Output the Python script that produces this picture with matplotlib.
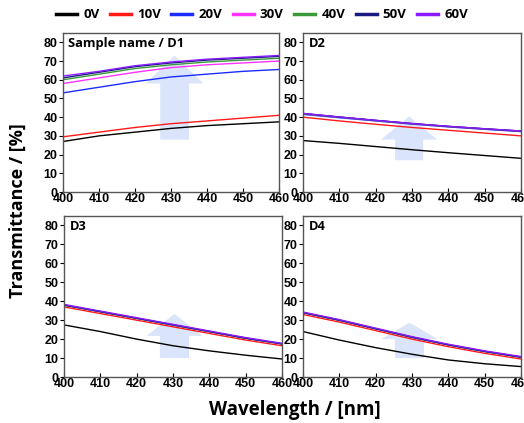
import matplotlib
matplotlib.use("Agg")
import matplotlib.pyplot as plt
from matplotlib.patches import FancyArrow
from matplotlib.font_manager import FontProperties

wavelength = [400, 410, 420, 430, 440, 450, 460]
voltages = ["0V", "10V", "20V", "30V", "40V", "50V", "60V"]
colors = ["#000000", "#ff1a1a", "#1a2cff", "#ff33ff", "#3a9a3a", "#1a1a80", "#8b1aff"]

d1 = {
    "0V":  [27, 30, 32, 34, 35.5, 36.5, 37.5],
    "10V": [29.5, 32, 34.5, 36.5, 38, 39.5, 41],
    "20V": [53, 56, 59, 61.5, 63, 64.5, 65.5],
    "30V": [58, 61, 64, 66.5, 68, 69, 70],
    "40V": [60, 63, 66, 68, 69.5, 70.5, 71.5],
    "50V": [61, 64, 67, 69, 70.5, 71.5, 72.5],
    "60V": [62, 64.5, 67.5, 69.5, 71, 72, 73],
}
d2 = {
    "0V":  [27.5, 26, 24.3, 22.6, 21, 19.5, 18],
    "10V": [40, 38, 36.2, 34.5, 33, 31.5, 30],
    "20V": [41.5, 39.7, 38, 36.3, 34.8, 33.5, 32.3],
    "30V": [41.8, 40, 38.2, 36.5, 35, 33.7, 32.5],
    "40V": [41.8, 40, 38.2, 36.5, 35, 33.7, 32.5],
    "50V": [42, 40.1, 38.3, 36.6, 35.1, 33.8, 32.6],
    "60V": [42, 40.1, 38.3, 36.6, 35.1, 33.8, 32.6],
}
d3 = {
    "0V":  [27.5, 24, 20, 16.5, 13.8, 11.5, 9.5],
    "10V": [37, 33.5, 30, 26.5, 23, 19.5, 16.5],
    "20V": [38, 34.5, 31, 27.5, 24, 20.5, 17.5],
    "30V": [38, 34.5, 31, 27.5, 24, 20.5, 17.5],
    "40V": [38, 34.5, 31, 27.5, 24, 20.5, 17.5],
    "50V": [38, 34.5, 31, 27.5, 24, 20.5, 17.5],
    "60V": [38.3, 34.8, 31.3, 27.8, 24.3, 20.8, 17.8],
}
d4 = {
    "0V":  [24, 19.5, 15.5, 12, 9, 7, 5.5],
    "10V": [33, 29, 24.5, 20, 16, 12.5, 9.5],
    "20V": [34, 30, 25.5, 21, 17, 13.5, 10.5],
    "30V": [34, 30, 25.5, 21, 17, 13.5, 10.5],
    "40V": [34, 30, 25.5, 21, 17, 13.5, 10.5],
    "50V": [34, 30, 25.5, 21, 17, 13.5, 10.5],
    "60V": [34.3, 30.3, 25.8, 21.3, 17.3, 13.8, 10.8],
}
panel_titles = ["Sample name / D1", "D2", "D3", "D4"]
xticks = [400, 410, 420, 430, 440, 450, 460]
yticks = [0, 10, 20, 30, 40, 50, 60, 70, 80]

W, H = 524, 423
fig = plt.figure(figsize=(W / 100, H / 100), dpi=100)

def rect(l, t, r, b):
    return [l / W, 1 - b / H, (r - l) / W, (b - t) / H]

rects = [rect(63, 33, 279, 192), rect(303, 33, 521, 192),
         rect(64, 216, 282, 377), rect(303, 216, 521, 377)]
datas = [d1, d2, d3, d4]
# arrow: (x center, y bottom, y head base, y top, shaft width, head width)
arrows = [(431, 28, 58, 73, 8, 16), (429.2, 17, 28, 40.4, 7.7, 15.5),
          (430.4, 10, 21.7, 33.3, 8, 15.4), (429.3, 10, 20, 28.7, 8, 15.5)]

tickfont = FontProperties(family="Liberation Sans", weight="bold", size=9)
axes = []
for i, (rc, data, title, arr) in enumerate(zip(rects, datas, panel_titles, arrows)):
    ax = fig.add_axes(rc)
    xc, yb, yh, yt, sw, hw = arr
    ar = FancyArrow(xc, yb, 0, yt - yb, width=sw, head_width=hw,
                    head_length=yt - yh, length_includes_head=True,
                    color="#d6e1fa", alpha=0.9, lw=0, zorder=0)
    ax.add_patch(ar)
    for v, c in zip(voltages, colors):
        ax.plot(wavelength, data[v], color=c, lw=1.0, label=v)
    ax.set_xlim(400, 460)
    ax.set_ylim(0, 85)
    ax.set_xticks(xticks)
    ax.set_yticks(yticks)
    ax.tick_params(axis="x", direction="in", length=3, width=0.8, pad=1)
    ax.tick_params(axis="y", direction="out", length=3, width=0.8, pad=1)
    for lab in ax.get_xticklabels() + ax.get_yticklabels():
        lab.set_fontproperties(tickfont)
    for s in ax.spines.values():
        s.set_color("#555555")
        s.set_linewidth(1.0)
    ax.text(0.025, 0.975, title, transform=ax.transAxes, ha="left", va="top",
            fontsize=9.3, fontweight="bold", family="Open Sans")
    axes.append(ax)

handles, labels = axes[0].get_legend_handles_labels()
leg = fig.legend(handles, labels, loc="center", bbox_to_anchor=(0.5, 1 - 15 / H),
                 ncol=7, frameon=False, handlelength=1.6, handletextpad=0.45,
                 columnspacing=0.8, prop=dict(family="Open Sans", weight="bold", size=9.5))
for line in leg.get_lines():
    line.set_linewidth(2.5)

fig.text(18 / W, 1 - 211 / H, "Transmittance / [%]", rotation=90, ha="center", va="center",
         fontsize=13, fontweight="bold", family="Open Sans")
fig.text(295 / W, 1 - 410 / H, "Wavelength / [nm]", ha="center", va="center",
         fontsize=13.5, fontweight="bold", family="Open Sans")

fig.savefig("out.png", dpi=100)
